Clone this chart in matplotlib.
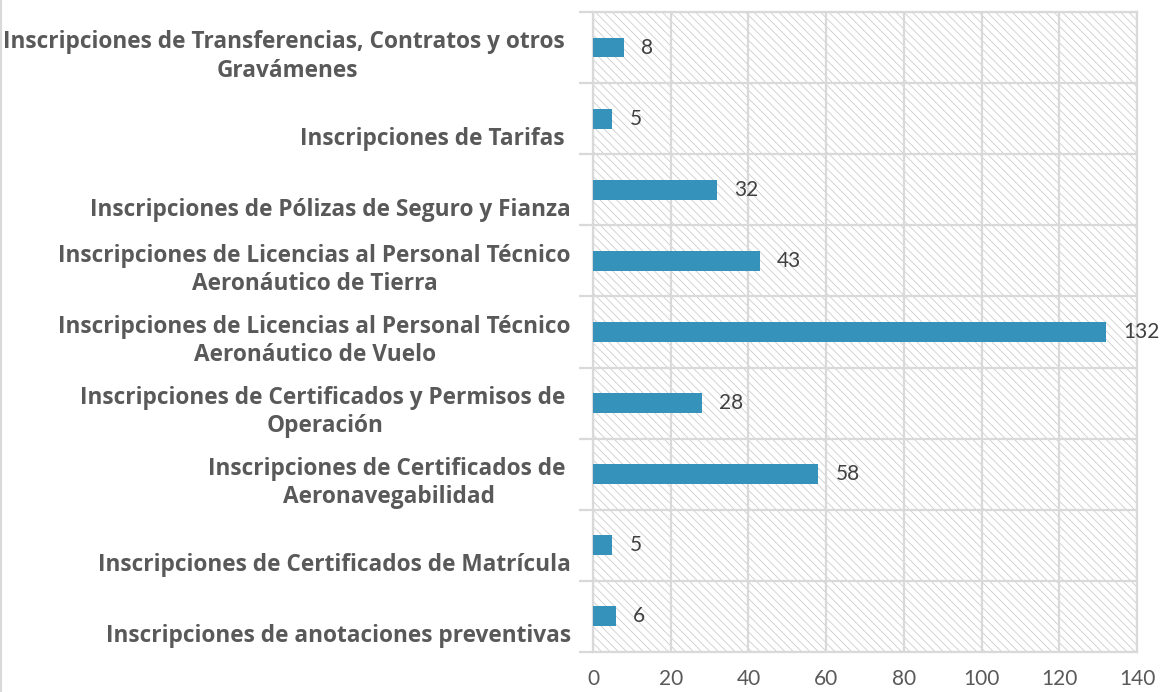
import matplotlib
matplotlib.use("Agg")
import matplotlib.pyplot as plt
from matplotlib.patches import Rectangle
from matplotlib.lines import Line2D
import numpy as np

categories = [
    "Inscripciones de anotaciones preventivas",
    "Inscripciones de Certificados de Matrícula",
    "Inscripciones de Certificados de \nAeronavegabilidad",
    "Inscripciones de Certificados y Permisos de \nOperación",
    "Inscripciones de Licencias al Personal Técnico\nAeronáutico de Vuelo",
    "Inscripciones de Licencias al Personal Técnico\nAeronáutico de Tierra",
    "Inscripciones de Pólizas de Seguro y Fianza",
    "Inscripciones de Tarifas ",
    "Inscripciones de Transferencias, Contratos y otros \nGravámenes",
]
values = [6, 5, 58, 28, 132, 43, 32, 5, 8]
xticks = [0, 20, 40, 60, 80, 100, 120, 140]

BAR = "#3593BB"
GRID = "#d9d9d9"
LABFONT = ["Open Sans", "DejaVu Sans"]
NUMFONT = ["Lato", "DejaVu Sans"]

plt.rcParams["hatch.linewidth"] = 0.6

fig = plt.figure(figsize=(11.74, 6.92), dpi=100)
ax = fig.add_axes([0.5051, 0.0578, 0.9685 - 0.5051, 0.9827 - 0.0578])

y = np.arange(len(categories))
ax.barh(y, values, height=0.28, color=BAR, zorder=3)

ax.set_xlim(0, 140)
ax.set_ylim(-0.5, len(categories) - 0.5)

# hatched background
bg = Rectangle((0, 0), 1, 1, transform=ax.transAxes, facecolor="white",
               edgecolor="#cccccc", hatch="\\\\\\\\", linewidth=0, zorder=0)
ax.add_patch(bg)
ax.set_facecolor("white")

# grid
ax.set_xticks(xticks)
ax.set_xticklabels([str(t) for t in xticks], fontsize=15, color="#595959",
                   family=NUMFONT)
ax.tick_params(axis="x", length=0, pad=12)
ax.xaxis.grid(True, color=GRID, linewidth=1.6, zorder=1)

ax.set_yticks([])
ax.set_yticks(np.arange(-0.5, len(categories)), minor=True)
ax.yaxis.grid(True, which="minor", color=GRID, linewidth=1.6, zorder=1)
ax.tick_params(axis="y", which="minor", length=10, width=1.6, color=GRID,
               labelleft=False)
ax.set_axisbelow(True)
for s in ax.spines.values():
    s.set_color(GRID)
    s.set_linewidth(1.6)

# category labels
for yi, lab in zip(y, categories):
    nlines = lab.count("\n") + 1
    off = -20 if nlines == 1 else -9
    ax.annotate(lab, xy=(0, yi), xycoords=("axes fraction", "data"),
                xytext=(-22, off), textcoords="offset pixels",
                ha="right", va="center", multialignment="center",
                fontsize=16.3, fontweight="bold", color="#595959",
                family=LABFONT, linespacing=1.25)

# value labels
for yi, v in zip(y, values):
    ax.annotate(str(v), xy=(v, yi), xytext=(17, 0), textcoords="offset pixels",
                ha="left", va="center", fontsize=15, color="#404040",
                family=NUMFONT, annotation_clip=False, zorder=4)

fig.add_artist(Line2D([0.001, 0.001], [0, 1], transform=fig.transFigure,
                      color=GRID, linewidth=1.5))

fig.savefig("out.png", dpi=100)
